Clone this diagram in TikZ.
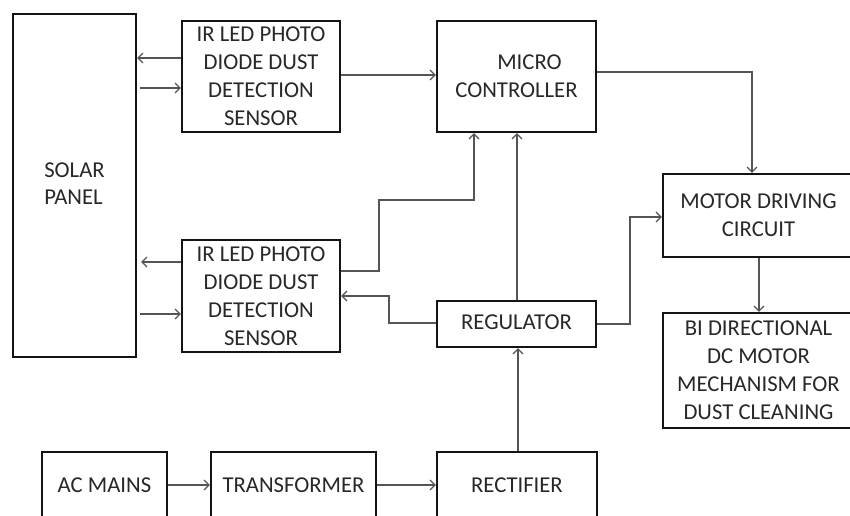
\documentclass[tikz,border=0pt]{standalone}
\usepackage{fontspec}
\setmainfont{Carlito}
\usetikzlibrary{arrows.meta,calc}

\definecolor{boxline}{RGB}{20,20,20}
\definecolor{wire}{RGB}{85,85,85}
\definecolor{label}{RGB}{40,40,40}

\tikzset{
  block/.style={draw=boxline, line width=2.2pt, rectangle, inner sep=0pt,
    align=center, text=label, font=\fontsize{22.7}{28}\selectfont},
  wirearrow/.style={draw=wire, line width=1.3pt,
    -{Straight Barb[length=5pt,width=10pt,line width=1.2pt]}},
  wireline/.style={draw=wire, line width=1.3pt}
}

\begin{document}
\begin{tikzpicture}[x=1pt,y=-1pt]
  \useasboundingbox (0,0) rectangle (850,515);
  \clip (0,0) rectangle (850,515);
  \fill[white] (0,0) rectangle (850,515);

  % blocks
  \node[block, minimum width=123pt, minimum height=343pt] (solar) at (74.5,185.5)
    {\begin{tabular}{@{}l@{}}SOLAR\\[-0.6pt]PANEL\end{tabular}};
  \node[block, minimum width=158pt, minimum height=111pt] (sensA) at (261,76.5)
    {IR LED PHOTO\\DIODE DUST\\DETECTION\\SENSOR};
  \node[block, minimum width=158pt, minimum height=112pt] (sensB) at (261,296)
    {IR LED PHOTO\\DIODE DUST\\DETECTION\\SENSOR};
  \node[block, minimum width=159pt, minimum height=111pt] (micro) at (516.5,76.5)
    {\hspace*{26pt}MICRO\\CONTROLLER};
  \node[block, minimum width=191pt, minimum height=83pt] (motor) at (758.5,215.5)
    {MOTOR DRIVING\\CIRCUIT};
  \node[block, minimum width=191pt, minimum height=115pt] (bidc) at (758.5,370.5)
    {BI DIRECTIONAL\\DC MOTOR\\MECHANISM FOR\\DUST CLEANING};
  \node[block, minimum width=159pt, minimum height=46pt] (reg) at (516.5,324)
    {\raisebox{4pt}{REGULATOR}};
  \node[block, minimum width=160pt, minimum height=67pt] (rect) at (517,485.5)
    {RECTIFIER};
  \node[block, minimum width=125pt, minimum height=67pt] (acm) at (104.5,485.5)
    {AC MAINS};
  \node[block, minimum width=165pt, minimum height=67pt] (trans) at (293.5,485.5)
    {TRANSFORMER};

  % sensor links with the panel
  \draw[wirearrow] (sensA.west |- 0,58) -- (solar.east |- 0,58);
  \draw[wirearrow, shorten <=3pt] (solar.east |- 0,88) -- (sensA.west |- 0,88);
  \draw[wirearrow, shorten >=4pt] (sensB.west |- 0,262) -- (solar.east |- 0,262);
  \draw[wirearrow, shorten <=3pt] (solar.east |- 0,314) -- (sensB.west |- 0,314);

  % sensors to the controller
  \draw[wirearrow] (sensA.east |- 0,75) -- (micro.west |- 0,75);
  \coordinate (bendB1) at (379,271);
  \coordinate (bendB2) at (379,200);
  \draw[wirearrow] (sensB.east |- bendB1) -- (bendB1) -- (bendB2)
    -- (bendB2 -| 474,0) -- (micro.south -| 474,0);

  % controller to motor driver
  \draw[wirearrow] (micro.east |- 0,72) -- (752,72) -- (motor.north -| 752,0);
  \draw[wirearrow] (motor.south -| 759,0) -- (bidc.north -| 759,0);

  % regulator outputs
  \draw[wirearrow] (reg.north -| 517,0) -- (micro.south -| 517,0);
  \coordinate (bendR1) at (389,323);
  \coordinate (bendR2) at (389,296);
  \draw[wirearrow] (reg.west |- bendR1) -- (bendR1) -- (bendR2) -- (sensB.east |- bendR2);
  \coordinate (bendM1) at (630,324);
  \coordinate (bendM2) at (630,217);
  \draw[wirearrow] (reg.east |- bendM1) -- (bendM1) -- (bendM2) -- (motor.west |- bendM2);

  % power supply chain
  \draw[wirearrow] (rect.north -| 518,0) -- (reg.south -| 518,0);
  \draw[wirearrow] (acm.east |- 0,485) -- (trans.west |- 0,485);
  \draw[wirearrow] (trans.east |- 0,485) -- (rect.west |- 0,485);
\end{tikzpicture}
\end{document}
